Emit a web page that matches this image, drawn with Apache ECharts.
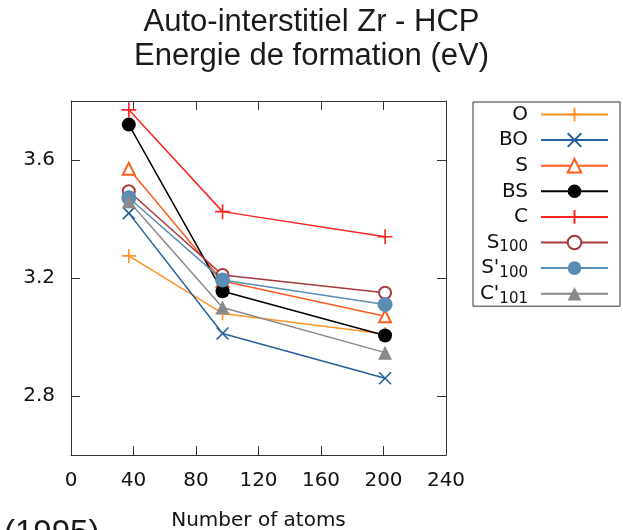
<!DOCTYPE html>
<html>
<head>
<meta charset="utf-8">
<script src="https://cdn.jsdelivr.net/npm/echarts@6/dist/echarts.min.js"></script>
<style>
    html, body { margin: 0; padding: 0; background: #fff; }
    #main { width: 623px; height: 530px; }
</style>
</head>
<body>
<div id="main"></div>
<script>
// number of atoms in the supercell
var atoms = [37, 97, 201];
var yTicks = [2.8, 3.2, 3.6];

// formation energies (eV)
var O     = [3.275, 3.08, 3.01];
var BO    = [3.42, 3.012, 2.86];
var S     = [3.57, 3.19, 3.07];
var BS    = [3.72, 3.155, 3.005];
var C     = [3.77, 3.425, 3.34];
var S100  = [3.494, 3.21, 3.15];
var Sp100 = [3.472, 3.193, 3.11];
var Cp101 = [3.46, 3.10, 2.947];

var names = ['O', 'BO', 'S', 'BS', 'C', 'S100', "S'100", "C'101"];
var values = [O, BO, S, BS, C, S100, Sp100, Cp101];

var plus = 'path://M0,5L10,5M5,0L5,10';
var cross = 'path://M0,0L10,10M10,0L0,10';

// marker look per series: [color, symbol, size, filled]
var looks = [
    ['#ff9326', plus, 14, false],
    ['#28609e', cross, 12, false],
    ['#ff5d1f', 'emptyTriangle', 12, false],
    ['#000000', 'circle', 14, true],
    ['#ff2222', plus, 15, false],
    ['#a63838', 'emptyCircle', 12, false],
    ['#5b8cb4', 'circle', 15, true],
    ['#8a8a8a', 'triangle', 14, true]
];

var chart = echarts.init(document.getElementById('main'));

var seriesList = [];
for (var i = 0; i < names.length; i++) {
    var lk = looks[i];
    var pts = [];
    for (var j = 0; j < atoms.length; j++) {
        pts.push([atoms[j], values[i][j]]);
    }
    seriesList.push({
        name: names[i],
        type: 'line',
        data: pts,
        symbol: lk[1],
        symbolSize: lk[2],
        showAllSymbol: true,
        color: lk[0],
        lineStyle: { color: lk[0], width: 1.5 },
        itemStyle: {
            color: lk[0],
            borderColor: lk[0],
            borderWidth: lk[3] ? 0 : 1.6
        },
        emphasis: { disabled: true }
    });
}

var axisFont = { fontFamily: 'DejaVu Sans', fontSize: 20, color: '#111' };
// frame lines must not jump to the zero of the other axis
var frame = { show: true, onZero: false, lineStyle: { color: '#333', width: 1 } };
var tick = { show: true, inside: true, length: 9, lineStyle: { color: '#333' } };

var option = {
    animation: false,
    title: {
        text: 'Auto-interstitiel Zr - HCP\nEnergie de formation (eV)',
        left: 'center',
        top: 5,
        padding: 0,
        textStyle: {
            fontFamily: 'Liberation Sans',
            fontSize: 31,
            fontWeight: 'normal',
            lineHeight: 34,
            color: '#1a1a1a'
        }
    },
    legend: {
        orient: 'vertical',
        left: 473,
        top: 102,
        align: 'right',
        padding: [0, 11, 0, 3],
        itemGap: 0.6,
        itemWidth: 67,
        itemHeight: 17,
        borderColor: '#333',
        borderWidth: 1,
        selectedMode: false,
        data: names,
        formatter: function (name) {
            // every row gets a sub token so all rows have the same height
            if (/\d+$/.test(name)) {
                return name.replace(/(\d+)$/, '{sub|$1}');
            }
            return name + '{sub|\u200b}';
        },
        textStyle: {
            fontFamily: 'DejaVu Sans',
            fontSize: 20,
            color: '#111',
            width: 52,
            height: 17,
            lineHeight: 17,
            align: 'right',
            padding: [0, 8, 0, 0],
            rich: {
                sub: {
                    fontFamily: 'DejaVu Sans',
                    fontSize: 15,
                    lineHeight: 17,
                    color: '#111',
                    padding: [10, 0, 0, 0]
                }
            }
        }
    },
    grid: {
        left: 71,
        right: 177,
        top: 101,
        bottom: 75,
        outerBoundsMode: 'none'
    },
    xAxis: [{
        type: 'value',
        min: 0,
        max: 240,
        interval: 40,
        name: 'Number of atoms',
        nameLocation: 'middle',
        nameGap: 56,
        nameTextStyle: { fontFamily: 'DejaVu Sans', fontSize: 20, color: '#111' },
        axisLine: frame,
        axisTick: tick,
        axisLabel: Object.assign({ margin: 16 }, axisFont),
        splitLine: { show: false }
    }, {
        type: 'value',
        position: 'top',
        min: 0,
        max: 240,
        interval: 40,
        axisLine: frame,
        axisTick: tick,
        axisLabel: { show: false },
        splitLine: { show: false }
    }],
    yAxis: [{
        type: 'value',
        min: 2.6,
        max: 3.8,
        axisLine: frame,
        axisTick: Object.assign({ customValues: yTicks }, tick),
        axisLabel: Object.assign({ margin: 16, customValues: yTicks, formatter: function (v) { return v.toFixed(1); } }, axisFont),
        splitLine: { show: false }
    }, {
        type: 'value',
        position: 'right',
        min: 2.6,
        max: 3.8,
        axisLine: frame,
        axisTick: Object.assign({ customValues: yTicks }, tick),
        axisLabel: { show: false },
        splitLine: { show: false }
    }],
    graphic: [{
        type: 'text',
        left: 4,
        top: 517,
        style: {
            text: '(1995)',
            fontFamily: 'Liberation Sans',
            fontSize: 33,
            fill: '#1a1a1a'
        }
    }],
    series: seriesList
};

chart.setOption(option);
</script>
</body>
</html>
